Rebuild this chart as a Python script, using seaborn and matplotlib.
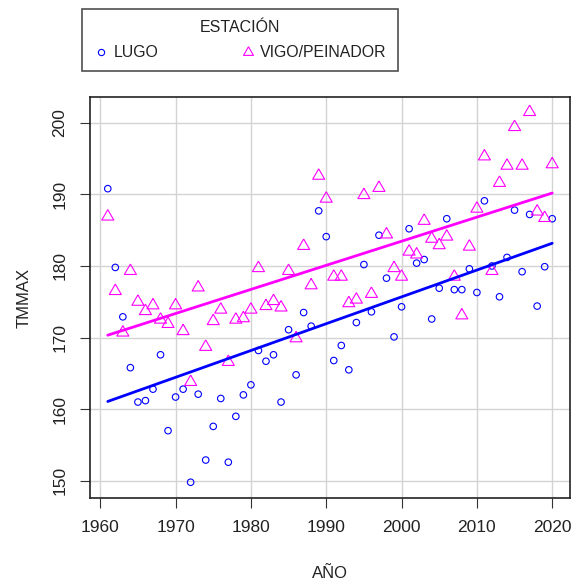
import matplotlib
matplotlib.use("Agg")
import matplotlib.pyplot as plt
import seaborn as sns
import pandas as pd
import numpy as np
from matplotlib.lines import Line2D

years = list(range(1961, 2021))

lugo = [190.8, 179.8, 172.9, 165.8, 161.0, 161.2, 162.8, 167.6, 157.0, 161.7,
        162.8, 149.8, 162.1, 152.9, 157.6, 161.5, 152.6, 159.0, 162.0, 163.4,
        168.2, 166.7, 167.6, 161.0, 171.1, 164.8, 173.5, 171.6, 187.7, 184.1,
        166.8, 168.9, 165.5, 172.1, 180.2, 173.6, 184.3, 178.3, 170.1, 174.3,
        185.2, 180.4, 180.9, 172.6, 176.9, 186.6, 176.7, 176.7, 179.6, 176.3,
        189.1, 180.0, 175.7, 181.2, 187.8, 179.2, 187.2, 174.4, 179.9, 186.6]

vigo = [186.9, 176.5, 170.7, 179.3, 175.0, 173.7, 174.5, 172.5, 171.9, 174.5,
        170.9, 163.8, 177.0, 168.7, 172.3, 173.9, 166.6, 172.5, 172.7, 173.9,
        179.7, 174.4, 175.1, 174.2, 179.3, 169.9, 182.8, 177.3, 192.6, 189.4,
        178.5, 178.5, 174.8, 175.3, 189.9, 176.1, 190.9, 184.4, 179.7, 178.5,
        182.0, 181.6, 186.3, 183.8, 182.9, 184.1, 178.5, 173.1, 182.7, 188.0,
        195.3, 179.3, 191.6, 194.0, 199.4, 194.0, 201.5, 187.6, 186.7, 194.2]

stations = ["LUGO", "VIGO/PEINADOR"]
colors = {"LUGO": "#0000FF", "VIGO/PEINADOR": "#FF00FF"}
xticks = [1960, 1970, 1980, 1990, 2000, 2010, 2020]
yticks = [150, 160, 170, 180, 190, 200]

df = pd.DataFrame({
    "AÑO": years * 2,
    "TMMAX": lugo + vigo,
    "ESTACIÓN": ["LUGO"] * len(years) + ["VIGO/PEINADOR"] * len(years),
})

sns.set_style("white")
plt.rcParams["font.family"] = ["Liberation Sans", "DejaVu Sans"]

tri = [(0, 1), (-0.866, -0.5), (0.866, -0.5), (0, 1)]

fig = plt.figure(figsize=(5.74, 5.86), dpi=100)
ax = fig.add_axes([90/574, 1-498/586, 480/574, 401/586])

ax.set_axisbelow(True)
for xt in xticks:
    ax.axvline(xt, color="#d3d3d3", lw=1.0, zorder=0)
for yt in yticks:
    ax.axhline(yt, color="#d3d3d3", lw=1.0, zorder=0)

sub_l = df[df["ESTACIÓN"] == "LUGO"]
sub_v = df[df["ESTACIÓN"] == "VIGO/PEINADOR"]
sns.scatterplot(data=sub_l, x="AÑO", y="TMMAX", ax=ax, marker="o", s=22,
                facecolor="none", edgecolor=colors["LUGO"], linewidth=0.8,
                legend=False, zorder=3)
sns.scatterplot(data=sub_v, x="AÑO", y="TMMAX", ax=ax, marker=tri, s=100,
                facecolor="none", edgecolor=colors["VIGO/PEINADOR"], linewidth=0.8,
                legend=False, zorder=3)
for st, sub in [("LUGO", sub_l), ("VIGO/PEINADOR", sub_v)]:
    sns.regplot(data=sub, x="AÑO", y="TMMAX", ax=ax, scatter=False, ci=None,
                truncate=True, line_kws={"color": colors[st], "lw": 2.0, "zorder": 4})

ax.set_xlim(1958.64, 2022.36)
ax.set_ylim(147.6, 203.6)
ax.set_xticks(xticks)
ax.set_yticks(yticks)
ax.set_xticklabels([str(t) for t in xticks])
ax.set_yticklabels([str(t) for t in yticks], rotation=90, va="center")
ax.tick_params(axis="both", direction="out", length=7.2, width=0.8,
               color="#333333", labelsize=12.5, labelcolor="#222222", pad=9,
               bottom=True, left=True)
for sp in ax.spines.values():
    sp.set_visible(True)
    sp.set_color("#222222")
    sp.set_linewidth(1.2)

ax.set_xlabel("AÑO", fontsize=12, color="#222222", labelpad=22)
ax.set_ylabel("TMMAX", fontsize=12, color="#222222", labelpad=15)

handles = [
    Line2D([], [], linestyle="none", marker="o", markersize=4.5,
           markerfacecolor="none", markeredgecolor=colors["LUGO"], markeredgewidth=0.8),
    Line2D([], [], linestyle="none", marker=tri, markersize=8.3,
           markerfacecolor="none", markeredgecolor=colors["VIGO/PEINADOR"], markeredgewidth=0.8),
]
leg = fig.legend(handles, stations, ncol=2, title="ESTACIÓN", loc="upper left",
                 bbox_to_anchor=(82/574, 1-75/586, 316/574, 66/586), mode="expand",
                 frameon=True, fancybox=False, edgecolor="#222222", fontsize=11.4,
                 title_fontsize=11.5, borderpad=0.7, handletextpad=0.3,
                 handlelength=1.0, labelspacing=0.65, borderaxespad=0)
leg.get_frame().set_linewidth(1.2)
for t in leg.get_texts():
    t.set_color("#222222")
leg.get_title().set_color("#222222")

fig.savefig("out.png", dpi=100)
